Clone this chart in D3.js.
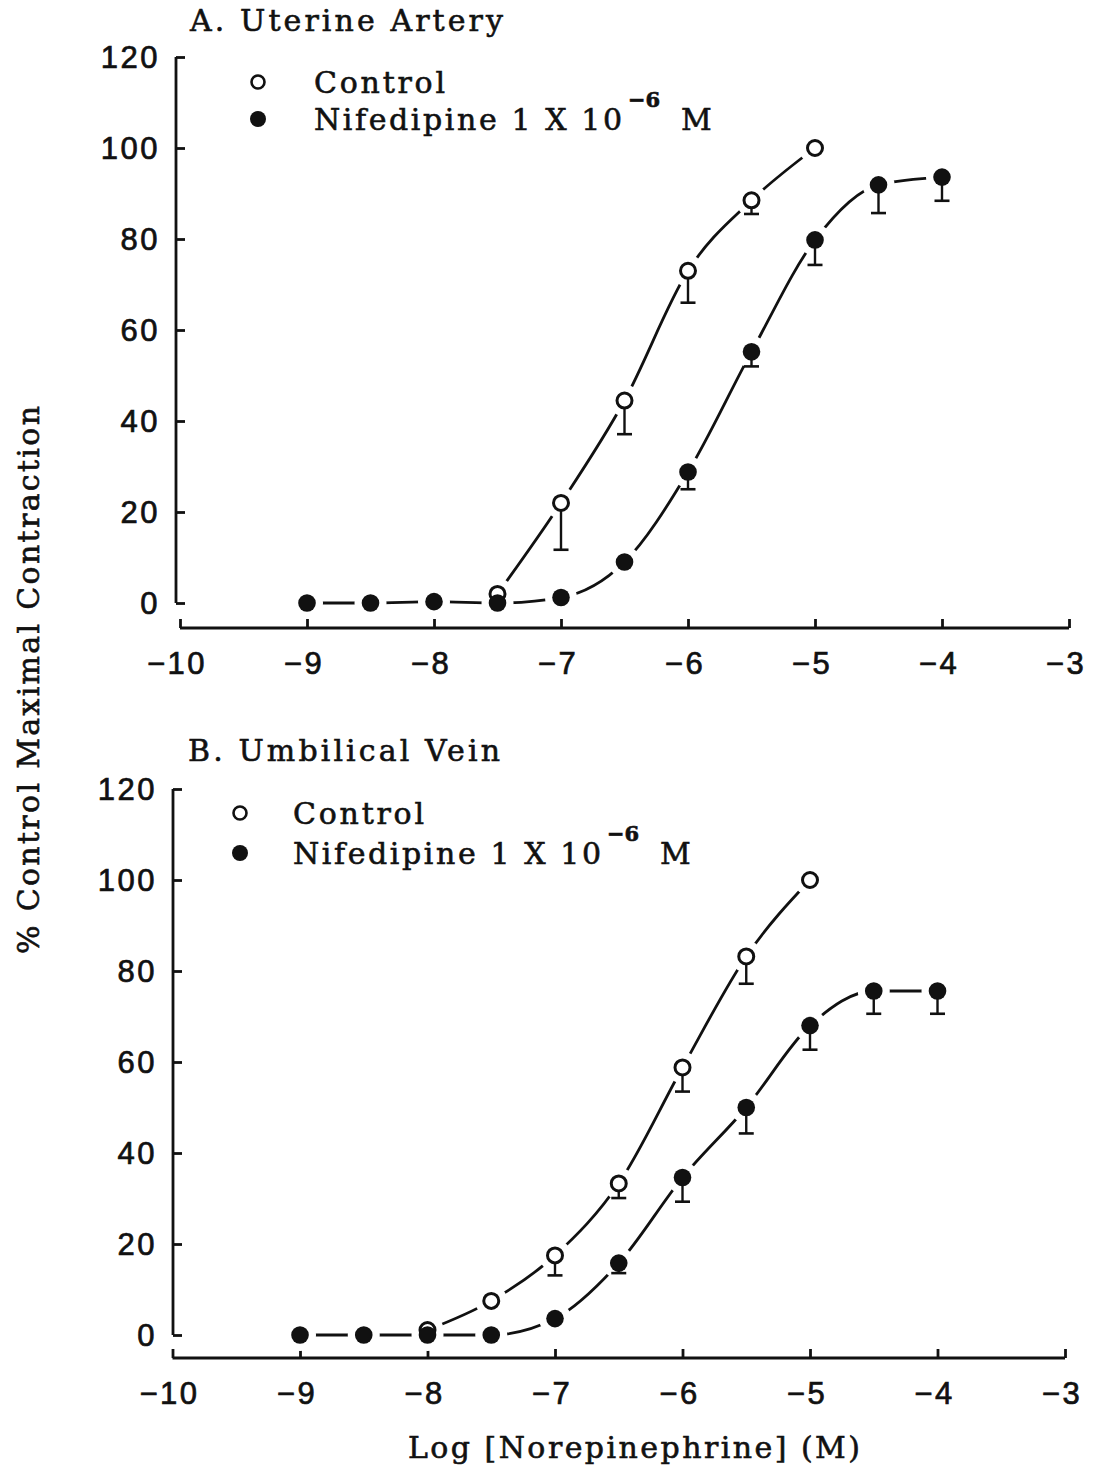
<!DOCTYPE html>
<html>
<head>
<meta charset="utf-8">
<script src="https://cdn.jsdelivr.net/npm/d3@7"></script>
<style>
  html, body { margin: 0; padding: 0; background: #fff; }
  svg { display: block; }
  .serif { font-family: "DejaVu Serif", "Liberation Serif", serif; fill: #111; stroke: #111; stroke-width: 0.6; }
  .tick-label { font-family: "Liberation Sans", Arial, sans-serif; fill: #111; stroke: #111; stroke-width: 0.7; }
</style>
</head>
<body>
<svg id="chart" width="1097" height="1474"></svg>
<script>
// Log molar concentration of norepinephrine at each dose step
const doses = [-9, -8.5, -8, -7.5, -7, -6.5, -6, -5.5, -5, -4.5, -4];

// A. Uterine artery
const arteryControlDoses = [-7.5, -7, -6.5, -6, -5.5, -5];
const arteryControlMean  = [2, 22, 44.5, 73, 88.5, 100];
const arteryControlSem   = [0, 10.3, 7.4, 7, 3, 0];
const arteryNifMean      = [0, 0, 0.3, 0, 1.2, 9, 28.8, 55.2, 79.8, 91.9, 93.6];
const arteryNifSem       = [0, 0, 0, 0, 0, 0, 3.8, 3.2, 5.5, 6.2, 5.2];

// B. Umbilical vein
const veinControlDoses = [-8, -7.5, -7, -6.5, -6, -5.5, -5];
const veinControlMean  = [1.1, 7.5, 17.5, 33.3, 58.8, 83.2, 100];
const veinControlSem   = [0, 0, 4.4, 3.2, 5.3, 6, 0];
const veinNifMean      = [0, 0, 0, 0, 3.6, 15.8, 34.6, 50, 68, 75.6, 75.6];
const veinNifSem       = [0, 0, 0, 0, 0, 2.2, 5.3, 5.7, 5.3, 5, 5];

const xTicks = [-10, -9, -8, -7, -6, -5, -4, -3];
const yTicks = [0, 20, 40, 60, 80, 100, 120];

const panels = [
  {
    title: "A. Uterine Artery",
    xRange: [180, 1069], yRange: [603, 57], xAxisY: 628, yAxisX: 176,
    titlePos: [190, 31, 313],
    legend: { x: 258, y1: 82, y2: 119, tx: 314, ctrlW: 131, nifW: 308, supX: 628, mX: 681 },
    control: arteryControlDoses.map((d, i) => ({ x: d, y: arteryControlMean[i], e: arteryControlSem[i] })),
    nif: doses.map((d, i) => ({ x: d, y: arteryNifMean[i], e: arteryNifSem[i] }))
  },
  {
    title: "B. Umbilical Vein",
    xRange: [172.5, 1065], yRange: [1335, 789], xAxisY: 1358, yAxisX: 173,
    titlePos: [188, 761, 312],
    legend: { x: 240, y1: 813, y2: 853, tx: 293, ctrlW: 131, nifW: 308, supX: 607, mX: 660 },
    control: veinControlDoses.map((d, i) => ({ x: d, y: veinControlMean[i], e: veinControlSem[i] })),
    nif: doses.map((d, i) => ({ x: d, y: veinNifMean[i], e: veinNifSem[i] }))
  }
];

const svg = d3.select("#chart");
const ink = "#111";

panels.forEach(p => {
  const x = d3.scaleLinear().domain([-10, -3]).range(p.xRange);
  const y = d3.scaleLinear().domain([0, 120]).range(p.yRange);
  const g = svg.append("g");

  // Panel title
  g.append("text").attr("class", "serif")
    .attr("x", p.titlePos[0]).attr("y", p.titlePos[1])
    .attr("font-size", 30).attr("textLength", p.titlePos[2]).attr("lengthAdjust", "spacing")
    .text(p.title);

  // Y axis: spine from 0 to 120 with inward ticks
  const yAxis = d3.axisRight(y).tickValues(yTicks).tickSize(9).tickFormat("");
  const ya = g.append("g").attr("transform", `translate(${p.yAxisX},0)`).call(yAxis);
  ya.select(".domain").attr("d", `M0,${y(0)}V${y(120)}`).attr("stroke", ink).attr("stroke-width", 2.8);
  ya.selectAll(".tick line").attr("stroke", ink).attr("stroke-width", 2.8);
  g.selectAll(".ylab").data(yTicks).enter().append("text")
    .attr("class", "tick-label")
    .attr("x", p.yAxisX - 16).attr("y", d => y(d) + 11)
    .attr("text-anchor", "end").attr("font-size", 31).attr("letter-spacing", 2.5)
    .text(d => d);

  // X axis: detached baseline with inward ticks
  const xAxis = d3.axisTop(x).tickValues(xTicks).tickSize(9).tickFormat("");
  const xa = g.append("g").attr("transform", `translate(0,${p.xAxisY})`).call(xAxis);
  xa.select(".domain").attr("d", `M${x(-10)},0H${x(-3)}`).attr("stroke", ink).attr("stroke-width", 2.8);
  xa.selectAll(".tick line").attr("stroke", ink).attr("stroke-width", 2.8);
  g.selectAll(".xlab").data(xTicks).enter().append("text")
    .attr("class", "tick-label")
    .attr("x", d => x(d) - 3).attr("y", p.xAxisY + 46)
    .attr("text-anchor", "middle").attr("font-size", 31).attr("letter-spacing", 2.5)
    .text(d => "\u2212" + Math.abs(d));

  // Smooth concentration-response curves
  const line = d3.line().x(d => x(d.x)).y(d => y(d.y)).curve(d3.curveMonotoneX);
  [p.control, p.nif].forEach(s => {
    g.append("path").attr("d", line(s)).attr("fill", "none")
      .attr("stroke", ink).attr("stroke-width", 2.8);
  });

  // White halos break the curves around each marker
  g.selectAll(".halo").data(p.control.concat(p.nif)).enter().append("circle")
    .attr("cx", d => x(d.x)).attr("cy", d => y(d.y)).attr("r", 16).attr("fill", "#fff");

  // Downward SEM bars
  const bars = p.control.concat(p.nif).filter(d => d.e > 0);
  bars.forEach(d => {
    const cx = x(d.x), y0 = y(d.y), y1 = y(d.y - d.e);
    g.append("line").attr("x1", cx).attr("x2", cx).attr("y1", y0).attr("y2", y1)
      .attr("stroke", ink).attr("stroke-width", 2.4);
    g.append("line").attr("x1", cx - 7.5).attr("x2", cx + 7.5).attr("y1", y1).attr("y2", y1)
      .attr("stroke", ink).attr("stroke-width", 2.6);
  });

  // Markers: open = control, filled = nifedipine
  g.selectAll(".ctrl").data(p.control).enter().append("circle")
    .attr("cx", d => x(d.x)).attr("cy", d => y(d.y)).attr("r", 7.5)
    .attr("fill", "#fff").attr("stroke", ink).attr("stroke-width", 3);
  g.selectAll(".nif").data(p.nif).enter().append("circle")
    .attr("cx", d => x(d.x)).attr("cy", d => y(d.y)).attr("r", 8.8)
    .attr("fill", ink);

  // Legend
  const L = p.legend;
  g.append("circle").attr("cx", L.x).attr("cy", L.y1).attr("r", 6.5)
    .attr("fill", "#fff").attr("stroke", ink).attr("stroke-width", 2.6);
  g.append("circle").attr("cx", L.x).attr("cy", L.y2).attr("r", 8).attr("fill", ink);
  g.append("text").attr("class", "serif").attr("x", L.tx).attr("y", L.y1 + 11)
    .attr("font-size", 30).attr("textLength", L.ctrlW).attr("lengthAdjust", "spacing")
    .text("Control");
  g.append("text").attr("class", "serif").attr("x", L.tx).attr("y", L.y2 + 11)
    .attr("font-size", 30).attr("textLength", L.nifW).attr("lengthAdjust", "spacing")
    .text("Nifedipine 1 X 10");
  g.append("text").attr("class", "serif").attr("x", L.supX).attr("y", L.y2 - 12)
    .attr("font-size", 21).attr("font-weight", "bold").text("\u22126");
  g.append("text").attr("class", "serif").attr("x", L.mX).attr("y", L.y2 + 11)
    .attr("font-size", 30).text("M");
});

// Shared axis titles
svg.append("text").attr("class", "serif")
  .attr("transform", "translate(39,680) rotate(-90)")
  .attr("text-anchor", "middle").attr("font-size", 30)
  .attr("textLength", 548).attr("lengthAdjust", "spacing")
  .text("% Control Maximal Contraction");
svg.append("text").attr("class", "serif")
  .attr("x", 634).attr("y", 1458).attr("text-anchor", "middle").attr("font-size", 30)
  .attr("textLength", 452).attr("lengthAdjust", "spacing")
  .text("Log [Norepinephrine] (M)");
</script>
</body>
</html>
